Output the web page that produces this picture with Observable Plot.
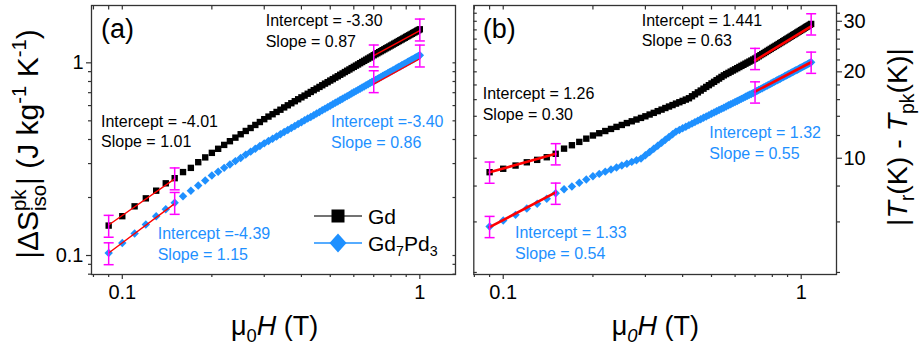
<!DOCTYPE html>
<html><head><meta charset="utf-8">
<script src="https://cdn.jsdelivr.net/npm/d3@7"></script>
<script src="https://cdn.jsdelivr.net/npm/@observablehq/plot@0.6"></script>
<style>
body{margin:0;background:#fff;}
#fig{position:relative;width:924px;height:349px;overflow:hidden;background:#fff;}
#fig .panel{position:absolute;top:0;width:462px;height:349px;}
</style></head><body>
<div id="fig"><div class="panel" id="pa" style="left:0"></div><div class="panel" id="pb" style="left:462px"></div></div>
<script>
// ---------------- DATA ----------------
// Panel (a): |ΔS_iso^pk| (J kg^-1 K^-1) vs μ0H (T)
const fieldA = [0.09,0.10,0.11,0.12,0.13,0.14,0.15,0.16,0.17,0.18,0.19,0.20,0.21,0.22,0.23,0.24,0.25,0.26,0.27,0.28,0.29,0.30,
0.31,0.32,0.33,0.34,0.35,0.36,0.37,0.38,0.39,0.40,0.41,0.42,0.43,0.44,0.45,0.46,0.47,0.48,0.49,0.50,
0.51,0.52,0.53,0.54,0.55,0.56,0.57,0.58,0.59,0.60,0.61,0.62,0.63,0.64,0.65,0.66,0.67,0.68,0.69,0.70,
0.71,0.72,0.73,0.74,0.75,0.76,0.77,0.78,0.79,0.80,0.81,0.82,0.83,0.84,0.85,0.86,0.87,0.88,0.89,0.90,
0.91,0.92,0.93,0.94,0.95,0.96,0.97,0.98,0.99,1.00];
const gdA = [0.143,0.160,0.180,0.198,0.217,0.237,0.252,0.271,0.285,0.305,0.323,0.341,
0.358,0.375,0.392,0.409,0.426,0.443,0.459,0.476,0.493,0.510,
0.526,0.541,0.556,0.571,0.587,0.602,0.617,0.632,0.647,0.662,0.676,0.691,0.706,0.721,0.735,0.750,0.765,0.780,0.794,0.809,
0.823,0.838,0.852,0.867,0.881,0.896,0.910,0.924,0.939,0.953,0.967,0.981,0.996,1.010,1.024,1.038,1.052,1.066,1.080,1.095,
1.109,1.122,1.136,1.149,1.163,1.176,1.190,1.203,1.216,1.230,1.243,1.257,1.270,1.283,1.297,1.310,1.323,1.336,1.349,1.363,
1.376,1.389,1.402,1.415,1.428,1.441,1.454,1.467,1.480,1.493];
const gd7pd3A = [0.103,0.116,0.130,0.145,0.160,0.174,0.188,0.203,0.217,0.231,0.245,0.260,
0.272,0.285,0.297,0.309,0.321,0.334,0.346,0.358,0.370,0.382,
0.393,0.404,0.415,0.426,0.438,0.448,0.459,0.470,0.481,0.492,0.503,0.514,0.524,0.535,0.546,0.556,0.567,0.578,0.588,0.599,
0.609,0.620,0.630,0.641,0.651,0.662,0.672,0.682,0.693,0.703,0.713,0.724,0.734,0.744,0.754,0.765,0.775,0.785,0.795,0.805,
0.815,0.825,0.835,0.844,0.854,0.864,0.874,0.883,0.893,0.903,0.913,0.922,0.932,0.942,0.951,0.961,0.971,0.980,0.990,0.999,
1.009,1.018,1.028,1.037,1.047,1.056,1.066,1.075,1.084,1.094];
const fitRangesA = [[0.09, 0.15], [0.70, 1.00]];
const fitGdA = [[0.144, 0.250], [1.091, 1.470]];
const fitGd7pd3A = [[0.103, 0.186], [0.775, 1.050]];
const errXA = [0.09, 0.15, 0.70, 1.00];
const errFracA = 0.13;

// Panel (b): |Tr(K) - Tpk(K)| vs μ0H (T)
const fieldB = [0.09,0.10,0.11,0.12,0.13,0.14,0.15,0.16,0.17,0.18,0.19,0.20,0.21,0.22,0.23,0.24,0.25,0.26,0.27,0.28,0.29,0.30,
0.31,0.32,0.33,0.34,0.35,0.36,0.37,0.38,0.39,0.40,0.41,0.42,0.43,0.44,0.45,0.46,0.47,0.48,0.49,0.50,
0.51,0.52,0.53,0.54,0.55,0.56,0.57,0.58,0.59,0.60,0.61,0.62,0.63,0.64,0.65,0.66,0.67,0.68,0.69,0.70,
0.71,0.72,0.73,0.74,0.75,0.76,0.77,0.78,0.79,0.80,0.81,0.82,0.83,0.84,0.85,0.86,0.87,0.88,0.89,0.90,
0.91,0.92,0.93,0.94,0.95,0.96,0.97,0.98,0.99,1.00,1.01,1.02,1.03,1.04,1.05,1.06,1.07,1.08];
const gdB = [8.94,9.19,9.43,9.68,9.87,10.08,10.36,10.80,11.10,11.40,11.70,12.00,
12.22,12.44,12.65,12.86,13.06,13.26,13.45,13.64,13.82,14.00,
14.20,14.39,14.59,14.77,14.96,15.14,15.32,15.50,15.67,15.84,16.01,16.18,
16.44,16.70,16.96,17.21,17.47,17.72,17.97,18.22,18.46,18.71,18.95,19.20,19.44,
19.64,19.83,20.03,20.22,20.41,20.60,20.79,20.98,21.16,21.35,21.53,21.71,21.89,22.07,22.25,
22.45,22.65,22.86,23.06,23.25,23.45,23.65,23.85,24.04,24.24,
24.43,24.62,24.81,25.00,25.19,25.38,25.57,25.76,25.95,26.13,
26.32,26.50,26.69,26.87,27.05,27.23,27.42,27.60,27.78,27.95,
28.13,28.31,28.49,28.67,28.84,29.02,29.19,29.37];
const gd7pd3B = [5.78,6.07,6.35,6.68,6.94,7.22,7.55,7.80,7.97,8.21,8.43,8.66,
8.82,8.98,9.13,9.28,9.43,9.57,9.71,9.84,9.97,
10.24,10.52,10.79,11.06,11.32,11.59,11.85,12.12,12.38,
12.55,12.71,12.88,13.04,13.20,13.36,13.52,13.67,13.83,13.98,14.13,14.28,
14.43,14.57,14.72,14.86,15.00,15.15,15.29,15.42,15.56,15.70,
15.83,15.97,16.10,16.23,16.37,16.50,16.63,16.75,16.88,17.01,
17.14,17.28,17.41,17.54,17.67,17.80,17.93,18.05,18.18,18.31,
18.43,18.56,18.68,18.80,18.93,19.05,19.17,19.29,19.41,19.53,
19.65,19.77,19.89,20.00,20.12,20.24,20.35,20.47,20.58,20.70,
20.81,20.92,21.04,21.15,21.26,21.37,21.48,21.59];
const fitRangesB = [[0.09, 0.15], [0.70, 1.08]];
const fitGdB = [[8.94, 10.36], [21.9, 28.8]];
const fitGd7pd3B = [[5.75, 7.61], [17.07, 21.6]];
const errXB = [0.09, 0.15, 0.70, 1.08];
const errFracB = 0.085;

// Tick values
const xMajor = [0.1, 1];
const xMinor = [0.08, 0.09, 0.2, 0.3, 0.4, 0.5, 0.6, 0.7, 0.8, 0.9];
const yMajorA = [0.1, 1];
const yMinorA = [0.08, 0.09, 0.2, 0.3, 0.4, 0.5, 0.6, 0.7, 0.8, 0.9];
const yMajorB = [10, 20, 30];
const yMinorB = [4, 6, 8, 12, 14, 16, 18, 22, 24, 26, 28, 32];

// ---------------- STYLE ----------------
const FONT = '"Liberation Sans", Arial, Helvetica, sans-serif';
const AX = "#333";
const BLUE = "#1E90FF";
const MAG = "#FF00FF";
const RED = "#FF0000";
const capSymbol = {draw(ctx, size) { const w = Math.sqrt(size / Math.PI); ctx.moveTo(-w, 0); ctx.lineTo(w, 0); }};
const noLabel = () => "";
const fmt = d => String(d);

function series(xs, ys) { return xs.map((x, i) => ({x, y: ys[i]})); }

function buildPanel(c) {
  const dGd = series(c.xs, c.gd), dGp = series(c.xs, c.gp);
  const fits = [];
  c.fitRanges.forEach((r, i) => {
    fits.push({x: r[0], y: c.fitGd[i][0], k: "a" + i}, {x: r[1], y: c.fitGd[i][1], k: "a" + i});
    fits.push({x: r[0], y: c.fitGp[i][0], k: "b" + i}, {x: r[1], y: c.fitGp[i][1], k: "b" + i});
  });
  const errs = [];
  for (const x of c.errX) {
    const i = c.xs.findIndex(v => Math.abs(v - x) < 1e-9);
    for (const arr of [c.gd, c.gp]) errs.push({x, y1: arr[i] * (1 - c.errFrac), y2: arr[i] * (1 + c.errFrac)});
  }
  const allX = [...xMajor, ...xMinor];
  const allY = [...c.yMajor, ...c.yMinor];
  const labelSide = c.yAnchor, otherSide = c.yAnchor === "left" ? "right" : "left";
  const marks = [
    Plot.axisX({ticks: xMajor, tickSize: 5, tickPadding: 5, tickFormat: fmt, fontSize: 20, stroke: AX, strokeWidth: 1.2}),
    Plot.axisX({ticks: xMinor, tickSize: 3, tickFormat: noLabel, stroke: AX, strokeWidth: 1.2}),
    Plot.axisX({anchor: "top", ticks: allX, tickSize: 3.5, dy: 3.5, tickFormat: noLabel, stroke: AX, strokeWidth: 1.2}),
    Plot.axisY({anchor: labelSide, ticks: c.yMajor, tickSize: 5, tickPadding: c.yPad, tickFormat: fmt, fontSize: 20, stroke: AX, strokeWidth: 1.2}),
    Plot.axisY({anchor: labelSide, ticks: c.yMinor, tickSize: 3, tickFormat: noLabel, stroke: AX, strokeWidth: 1.2}),
    Plot.axisY({anchor: otherSide, ticks: allY, tickSize: 3.5, dx: otherSide === "right" ? -3.5 : 3.5, tickFormat: noLabel, stroke: AX, strokeWidth: 1.2}),
    Plot.frame({stroke: AX, strokeWidth: 1.3}),
    Plot.dot(dGd, {x: "x", y: "y", symbol: "square", r: 3.6, fill: "#000"}),
    Plot.dot(dGp, {x: "x", y: "y", symbol: "diamond2", r: 3.8, fill: BLUE}),
    Plot.line(fits, {x: "x", y: "y", z: "k", stroke: RED, strokeWidth: c.fitWidth}),
    Plot.ruleX(errs, {x: "x", y1: "y1", y2: "y2", stroke: MAG, strokeWidth: 1.5}),
    Plot.dot(errs, {x: "x", y: "y1", symbol: capSymbol, r: 5, fill: "none", stroke: MAG, strokeWidth: 1.5}),
    Plot.dot(errs, {x: "x", y: "y2", symbol: capSymbol, r: 5, fill: "none", stroke: MAG, strokeWidth: 1.5})
  ];
  return Plot.plot({
    width: 462, height: 349,
    marginLeft: c.ml, marginRight: c.mr, marginTop: 5, marginBottom: 75,
    x: {type: "log", domain: c.xDomain, label: null},
    y: {type: "log", domain: c.yDomain, label: null},
    style: {fontFamily: FONT, fontSize: "20px", color: "#000", background: "transparent", overflow: "visible"},
    marks
  });
}

function rich(svg, x, y, F, parts, opt = {}) {
  const t = svg.append("text")
    .attr("transform", `translate(${x},${y})` + (opt.rotate ? ` rotate(${opt.rotate})` : ""))
    .attr("font-family", FONT).attr("font-size", F)
    .attr("fill", opt.fill || "#000").attr("text-anchor", opt.anchor || "start");
  let shift = 0, supW = 0, pending = 0;
  for (const p of parts) {
    const k = p.k || "n";
    const target = k === "sup" ? -0.40 * F : (k === "sub" || k === "stack") ? 0.26 * F : 0;
    const ts = t.append("tspan").text(p.t);
    if (k !== "n") ts.attr("font-size", 0.68 * F);
    if (p.it) ts.attr("font-style", "italic");
    if (target - shift !== 0) ts.attr("dy", target - shift);
    shift = target;
    const w = ts.node().getComputedTextLength();
    if (k === "stack") { ts.attr("dx", -supW); pending = Math.max(0, supW - w); }
    else if (pending && k === "n") { ts.attr("dx", pending); pending = 0; }
    if (k === "sup") supW = w;
  }
  return t;
}
function label(svg, x, y, F, s, fill) {
  svg.append("text").attr("x", x).attr("y", y).attr("text-anchor", "start")
    .attr("font-family", FONT).attr("font-size", F).attr("fill", fill || "#000").text(s);
}

// ---------------- PANEL A ----------------
const plotA = buildPanel({xs: fieldA, gd: gdA, gp: gd7pd3A, fitRanges: fitRangesA, fitGd: fitGdA, fitGp: fitGd7pd3A,
  errX: errXA, errFrac: errFracA, fitWidth: 1.4, yAnchor: "left", yMajor: yMajorA, yMinor: yMinorA, yPad: 3,
  ml: 91, mr: 7, xDomain: [0.0788, 1.318], yDomain: [0.0797, 1.984]});
document.getElementById("pa").appendChild(plotA);
const sa = d3.select(plotA);
label(sa, 101, 38, 27, "(a)");
label(sa, 265.7, 26, 16, "Intercept = -3.30");
label(sa, 265.7, 47, 16, "Slope = 0.87");
label(sa, 101, 126.7, 16, "Intercept = -4.01");
label(sa, 101, 147.3, 16, "Slope = 1.01");
label(sa, 331, 127.3, 16, "Intercept =-3.40", BLUE);
label(sa, 331, 148.3, 16, "Slope = 0.86", BLUE);
label(sa, 157.7, 239.3, 16, "Intercept =-4.39", BLUE);
label(sa, 157.7, 260, 16, "Slope = 1.15", BLUE);
// legend
sa.append("line").attr("x1", 314).attr("x2", 362).attr("y1", 216).attr("y2", 216).attr("stroke", "#444").attr("stroke-width", 1.5);
sa.append("rect").attr("x", 331.5).attr("y", 209.5).attr("width", 13).attr("height", 13).attr("fill", "#000");
label(sa, 368, 223.5, 21, "Gd");
sa.append("line").attr("x1", 314).attr("x2", 362).attr("y1", 243).attr("y2", 243).attr("stroke", BLUE).attr("stroke-width", 1.5);
sa.append("path").attr("d", "M338,233.5L346.5,243L338,252.5L329.5,243Z").attr("fill", BLUE);
rich(sa, 368, 250.5, 21, [{t: "Gd"}, {t: "7", k: "sub"}, {t: "Pd"}, {t: "3", k: "sub"}]);
// axis titles
rich(sa, 231, 335, 27, [{t: "μ"}, {t: "0", k: "sub"}, {t: "H", it: true}, {t: " (T)"}]);
rich(sa, 38, 144, 30, [{t: "|ΔS"}, {t: "pk", k: "sup"}, {t: "iso", k: "stack"}, {t: "| (J kg"}, {t: "-1", k: "sup"}, {t: " K"}, {t: "-1", k: "sup"}, {t: ")"}], {rotate: -90, anchor: "middle"});

// ---------------- PANEL B ----------------
const plotB = buildPanel({xs: fieldB, gd: gdB, gp: gd7pd3B, fitRanges: fitRangesB, fitGd: fitGdB, fitGp: fitGd7pd3B,
  errX: errXB, errFrac: errFracB, fitWidth: 2.6, yAnchor: "right", yMajor: yMajorB, yMinor: yMinorB, yPad: 2,
  ml: 11.3, mr: 88, xDomain: [0.07966, 1.3136], yDomain: [3.935, 34.05]});
document.getElementById("pb").appendChild(plotB);
const sb = d3.select(plotB);
label(sb, 20.7, 38, 27, "(b)");
label(sb, 179.7, 25.7, 16, "Intercept = 1.441");
label(sb, 179.7, 46.3, 16, "Slope = 0.63");
label(sb, 20.7, 99.3, 16, "Intercept = 1.26");
label(sb, 20.7, 120, 16, "Slope = 0.30");
label(sb, 247.3, 138.3, 16, "Intercept = 1.32", BLUE);
label(sb, 247.3, 159.3, 16, "Slope = 0.55", BLUE);
label(sb, 53, 238.3, 16, "Intercept = 1.33", BLUE);
label(sb, 53, 259.3, 16, "Slope = 0.54", BLUE);
rich(sb, 149.7, 335, 27, [{t: "μ"}, {t: "0", k: "sub", it: true}, {t: "H", it: true}, {t: " (T)"}]);
rich(sb, 445, 137, 28.5, [{t: "|"}, {t: "T", it: true}, {t: "r", k: "sub"}, {t: "(K) - "}, {t: "T", it: true}, {t: "pk", k: "sub"}, {t: "(K)|"}], {rotate: -90, anchor: "middle"});
</script>
</body></html>
